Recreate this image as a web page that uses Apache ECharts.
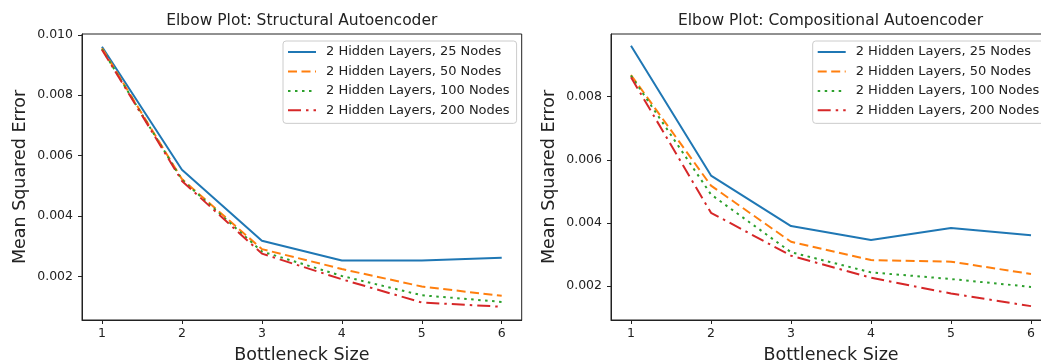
<!DOCTYPE html>
<html><head><meta charset="utf-8">
<script src="https://cdn.jsdelivr.net/npm/echarts@6/dist/echarts.min.js"></script>
<style>html,body{margin:0;padding:0;background:#fff}#c{width:1041px;height:364px}</style>
</head><body><div id="c"></div>
<script>
const bottleneckSizes = [1, 2, 3, 4, 5, 6];
const seriesNames = ['2 Hidden Layers, 25 Nodes', '2 Hidden Layers, 50 Nodes', '2 Hidden Layers, 100 Nodes', '2 Hidden Layers, 200 Nodes'];
const structural25 = [0.00961, 0.00553, 0.00318, 0.00252, 0.00252, 0.00261];
const structural50 = [0.00956, 0.00522, 0.00290, 0.00224, 0.00166, 0.00135];
const structural100 = [0.00953, 0.00520, 0.00282, 0.00201, 0.00137, 0.00115];
const structural200 = [0.00951, 0.00516, 0.00275, 0.00190, 0.00113, 0.00099];
const compositional25 = [0.00962, 0.00550, 0.00390, 0.00346, 0.00384, 0.00361];
const compositional50 = [0.00869, 0.00518, 0.00340, 0.00282, 0.00277, 0.00238];
const compositional100 = [0.00867, 0.00490, 0.00307, 0.00243, 0.00222, 0.00197];
const compositional200 = [0.00862, 0.00432, 0.00296, 0.00226, 0.00176, 0.00136];
const leftYTicks = [0.002, 0.004, 0.006, 0.008, 0.010];
const rightYTicks = [0.002, 0.004, 0.006, 0.008];
const titles = ['Elbow Plot: Structural Autoencoder', 'Elbow Plot: Compositional Autoencoder'];
const xName = 'Bottleneck Size';
const yName = 'Mean Squared Error';

const FONT = 'DejaVu Sans';
const INK = '#222';
const lineStyles = [
  { color: '#1f77b4', type: 'solid' },
  { color: '#ff7f0e', type: [9, 4.5] },
  { color: '#2ca02c', type: [2.5, 4.5] },
  { color: '#d62728', type: [13, 5, 2.5, 5] }
];
const groups = [
  [structural25, structural50, structural100, structural200],
  [compositional25, compositional50, compositional100, compositional200]
];

function xAxis(i) {
  return {
    type: 'value', gridIndex: i, min: 0.75, max: 6.25,
    name: xName, nameLocation: 'middle', nameGap: 26,
    nameTextStyle: { fontFamily: FONT, fontSize: 17.5, color: INK },
    axisLine: { show: true, lineStyle: { color: INK, width: 1 } },
    axisTick: { show: true, length: 4, customValues: bottleneckSizes, lineStyle: { color: INK } },
    axisLabel: { customValues: bottleneckSizes, margin: 7, fontFamily: FONT, fontSize: 12.5, color: INK },
    splitLine: { show: false }
  };
}
function yAxis(i, min, max, ticks) {
  return {
    type: 'value', gridIndex: i, min: min, max: max,
    name: yName, nameLocation: 'middle', nameGap: 53,
    nameTextStyle: { fontFamily: FONT, fontSize: 17.5, color: INK },
    axisLine: { show: true, lineStyle: { color: INK, width: 1 } },
    axisTick: { show: true, length: 4, customValues: ticks, lineStyle: { color: INK } },
    axisLabel: { customValues: ticks, margin: 9, fontFamily: FONT, fontSize: 12.5, color: INK,
      formatter: v => v.toFixed(3) },
    splitLine: { show: false }
  };
}
function legend(left) {
  return {
    orient: 'vertical', left: left, top: 41, data: seriesNames,
    itemWidth: 28, itemHeight: 14, itemGap: 5.45,
    padding: [4, 7, 6, 4],
    backgroundColor: 'rgba(255,255,255,0.85)', borderColor: '#cccccc', borderWidth: 1, borderRadius: 3,
    itemStyle: { opacity: 0 },
    textStyle: { fontFamily: FONT, fontSize: 13, color: INK, lineHeight: 14, padding: [0, 0, 0, 5] },
    selectedMode: false
  };
}

const series = [];
groups.forEach((grp, gi) => {
  grp.forEach((vals, si) => {
    series.push({
      type: 'line', name: seriesNames[si], xAxisIndex: gi, yAxisIndex: gi,
      data: bottleneckSizes.map((x, k) => [x, vals[k]]),
      symbol: 'none', animation: false, silent: true,
      lineStyle: { color: lineStyles[si].color, type: lineStyles[si].type, width: 2 },
      itemStyle: { color: lineStyles[si].color },
      z: 2 + si
    });
  });
});

const chart = echarts.init(document.getElementById('c'), null, { renderer: 'canvas' });
chart.setOption({
  animation: false,
  backgroundColor: '#fff',
  title: [
    { text: titles[0], left: 301.8, top: 13, textAlign: 'center', padding: 0,
      textStyle: { fontFamily: FONT, fontWeight: 'normal', fontSize: 15.5, color: INK } },
    { text: titles[1], left: 830.5, top: 13, textAlign: 'center', padding: 0,
      textStyle: { fontFamily: FONT, fontWeight: 'normal', fontSize: 15.5, color: INK } }
  ],
  grid: [
    { left: 82, top: 34, right: 519.3, bottom: 44, show: true, borderColor: INK, borderWidth: 1,
      outerBoundsMode: 'none', containLabel: false },
    { left: 611, top: 34, right: -10, bottom: 44, show: true, borderColor: INK, borderWidth: 1,
      outerBoundsMode: 'none', containLabel: false }
  ],
  xAxis: [xAxis(0), xAxis(1)],
  yAxis: [yAxis(0, 0.00055, 0.01003, leftYTicks), yAxis(1, 0.00092, 0.00999, rightYTicks)],
  legend: [legend(283), legend(812.7)],
  series: series
});
</script>
</body></html>
